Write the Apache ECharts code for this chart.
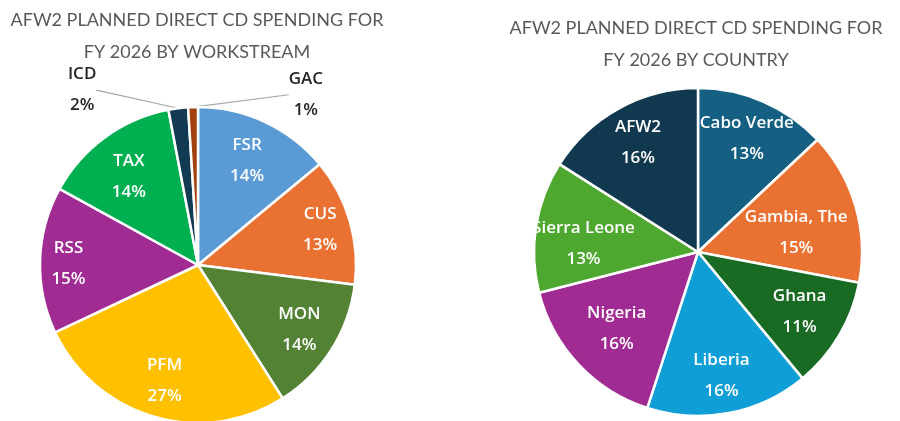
<!DOCTYPE html>
<html>
<head>
<meta charset="utf-8">
<script src="https://cdn.jsdelivr.net/npm/echarts@6/dist/echarts.min.js"></script>
<style>
html,body{margin:0;padding:0;background:#fff;}
#chart{width:900px;height:421px;}
</style>
</head>
<body>
<div id="chart"></div>
<script>
// Left pie: by workstream
const workstreams = ['FSR', 'CUS', 'MON', 'PFM', 'RSS', 'TAX', 'ICD', 'GAC'];
const workstreamPct = [14, 13, 14, 27, 15, 14, 2, 1];
const workstreamColors = ['#5B9BD5', '#E97132', '#548235', '#FFC000', '#A02B93', '#00B050', '#123A52', '#A3410E'];
const workstreamOutside = ['ICD', 'GAC'];
// inside label placement: radial distance (fraction of radius) and turn from the mid angle (deg)
const workstreamLabelDist = [0.73, 0.805, 0.76, 0.76, 0.82, 0.71, 0, 0];
const workstreamLabelTurn = [0, 0, 0, 0, -1, -2, 0, 0];

// Right pie: by country
const countries = ['Cabo Verde', 'Gambia, The', 'Ghana', 'Liberia', 'Nigeria', 'Sierra Leone', 'AFW2'];
const countryPct = [13, 15, 11, 16, 16, 13, 16];
const countryColors = ['#156082', '#E97132', '#196B24', '#0F9ED5', '#A02B93', '#4EA72E', '#10384F'];
const countryLabelDist = [0.75, 0.61, 0.72, 0.765, 0.68, 0.70, 0.76];
const countryLabelTurn = [0, 5.3, 0, 0, 0, -4.9, 0];

const titleLeft = 'AFW2 PLANNED DIRECT CD SPENDING FOR\nFY 2026 BY WORKSTREAM';
const titleRight = 'AFW2 PLANNED DIRECT CD SPENDING FOR\nFY 2026 BY COUNTRY';

const TFONT = 'Lato, "Open Sans", sans-serif';
const LFONT = '"Open Sans", Lato, sans-serif';
const chart = echarts.init(document.getElementById('chart'), null, {renderer: 'canvas'});

const insideLabel = {
  show: true, position: 'inside', color: '#fff', fontFamily: LFONT, fontWeight: 600,
  fontSize: 17, lineHeight: 31, formatter: p => p.name + '\n' + p.value + '%'
};

function mainData(names, vals, colors, outside) {
  return names.map((n, i) => {
    const isOut = outside && outside.indexOf(n) >= 0;
    return {
      name: n, value: vals[i],
      itemStyle: {color: colors[i]},
      label: {show: isOut},
      labelLine: {show: isOut}
    };
  });
}
function overlayData(names, vals, outside) {
  return names.map((n, i) => ({
    name: n, value: vals[i],
    label: {show: !(outside && outside.indexOf(n) >= 0)}
  }));
}

const LC = [198, 265], LR = 158;
const RC = [698, 252], RR = 164;

const outsideOffsets = { ICD: [-85, -16], GAC: [119, -11] };

// place inside labels along each slice's mid angle at the wanted radial fraction
function radialLayout(center, radius, vals, dists, turns) {
  const total = vals.reduce((a, b) => a + b, 0);
  const mids = [];
  let cum = 0;
  vals.forEach(v => { mids.push((cum + v / 2) / total * Math.PI * 2); cum += v; });
  return function (p) {
    const a = mids[p.dataIndex] + turns[p.dataIndex] * Math.PI / 180;  // clockwise from 12 o'clock
    const d = dists[p.dataIndex] * radius;
    return {
      x: center[0] + d * Math.sin(a),
      y: center[1] - d * Math.cos(a),
      align: 'center', verticalAlign: 'middle'
    };
  };
}

chart.setOption({
  animation: false,
  title: [
    {text: titleLeft, left: 197, top: 4, padding: 0, textAlign: 'center',
     textStyle: {fontFamily: TFONT, fontWeight: 'normal', fontSize: 18, lineHeight: 32, color: '#595959'}},
    {text: titleRight, left: 696, top: 12, padding: 0, textAlign: 'center',
     textStyle: {fontFamily: TFONT, fontWeight: 'normal', fontSize: 18, lineHeight: 32, color: '#595959'}}
  ],
  series: [
    {
      type: 'pie', center: LC, radius: LR, startAngle: 90, clockwise: true,
      avoidLabelOverlap: false, silent: true,
      itemStyle: {borderColor: '#fff', borderWidth: 2.5},
      label: {
        position: 'outside', color: '#262626', fontFamily: LFONT, fontWeight: 600,
        fontSize: 17, lineHeight: 31, formatter: p => p.name + '\n' + p.value + '%'
      },
      labelLine: {length: 8, length2: 0, lineStyle: {color: '#A6A6A6', width: 1.2}},
      labelLayout: function (p) {
        const name = workstreams[p.dataIndex];
        const off = outsideOffsets[name];
        if (!off) return {};
        return {x: p.rect.x + off[0], y: p.rect.y + off[1], align: 'center', verticalAlign: 'middle'};
      },
      data: mainData(workstreams, workstreamPct, workstreamColors, workstreamOutside)
    },
    {
      type: 'pie', center: LC, radius: [0, LR], startAngle: 90, clockwise: true,
      silent: true, z: 5, avoidLabelOverlap: false,
      itemStyle: {color: 'rgba(0,0,0,0)', borderWidth: 0},
      label: insideLabel, labelLine: {show: false},
      labelLayout: radialLayout(LC, LR, workstreamPct, workstreamLabelDist, workstreamLabelTurn),
      emphasis: {disabled: true},
      data: overlayData(workstreams, workstreamPct, workstreamOutside)
    },
    {
      type: 'pie', center: RC, radius: RR, startAngle: 90, clockwise: true,
      avoidLabelOverlap: false, silent: true,
      itemStyle: {borderColor: '#fff', borderWidth: 2.5},
      label: {show: false}, labelLine: {show: false},
      data: mainData(countries, countryPct, countryColors, null)
    },
    {
      type: 'pie', center: RC, radius: [0, RR], startAngle: 90, clockwise: true,
      silent: true, z: 5, avoidLabelOverlap: false,
      itemStyle: {color: 'rgba(0,0,0,0)', borderWidth: 0},
      label: insideLabel, labelLine: {show: false},
      labelLayout: radialLayout(RC, RR, countryPct, countryLabelDist, countryLabelTurn),
      emphasis: {disabled: true},
      data: overlayData(countries, countryPct, null)
    }
  ]
});
</script>
</body>
</html>
